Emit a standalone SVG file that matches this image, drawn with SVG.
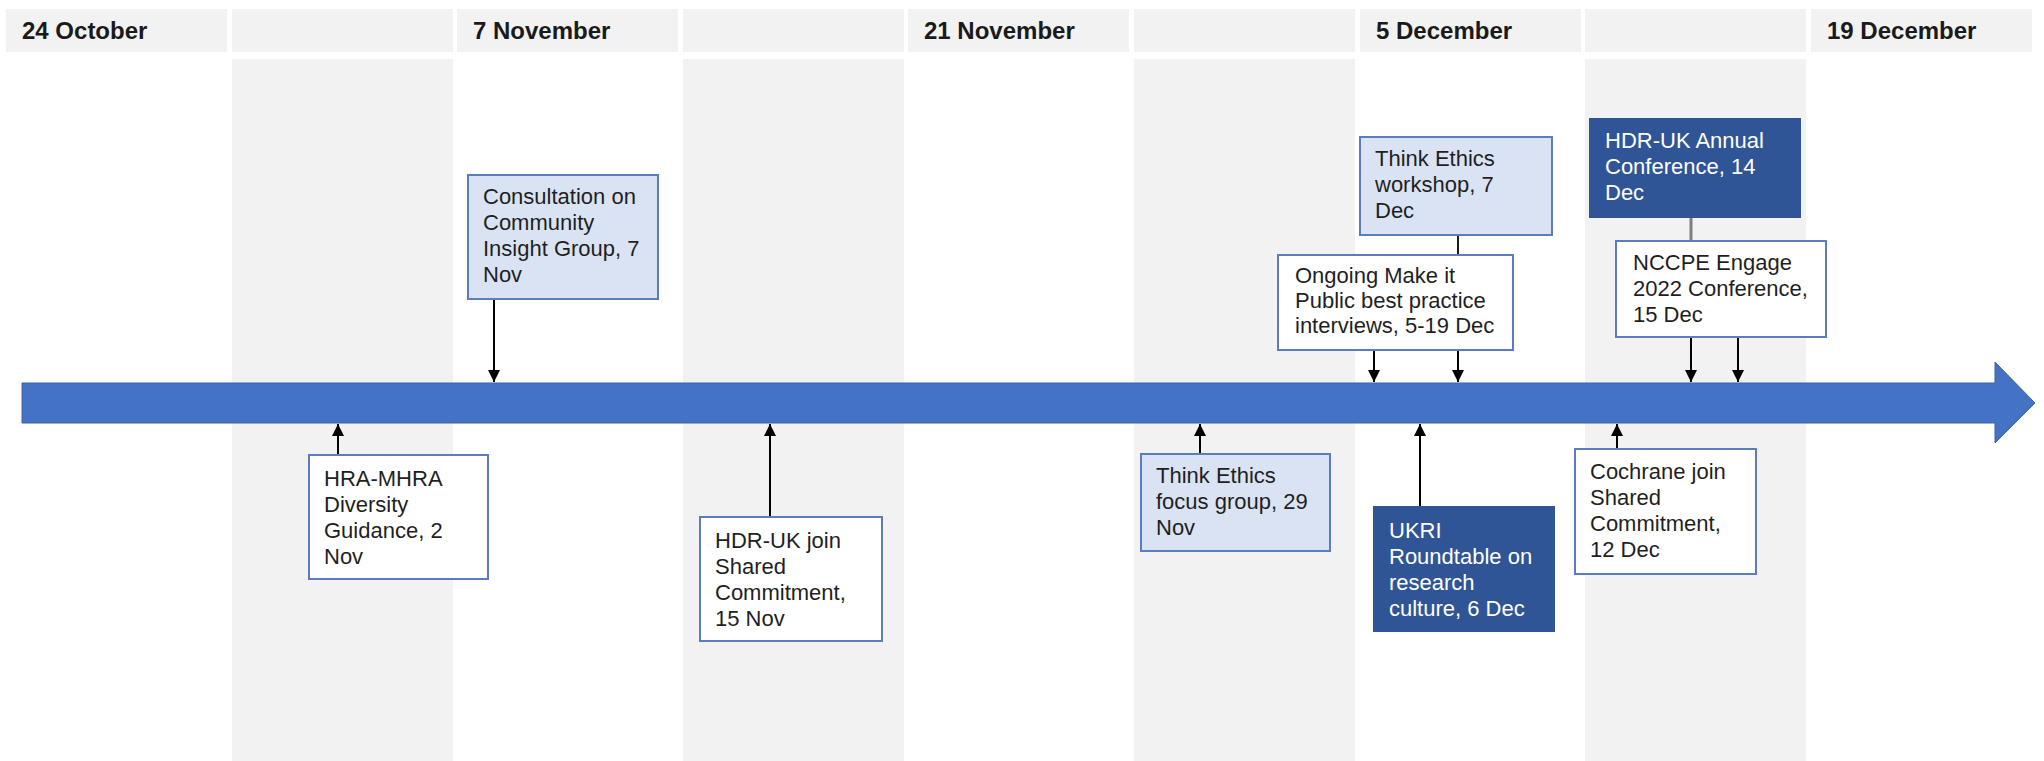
<svg xmlns="http://www.w3.org/2000/svg" width="2044" height="761" viewBox="0 0 2044 761">
  <defs>
    <style>
      .cell { fill: #f2f2f2; }
      .hdr { font-family: "Liberation Sans", Arial, sans-serif; font-size: 24px; font-weight: bold; fill: #1a1a1a; }
      .lbl { font-family: "Liberation Sans", Arial, sans-serif; font-size: 22px; fill: #1f1f1f; }
      .lbl-w { font-family: "Liberation Sans", Arial, sans-serif; font-size: 22px; fill: #ffffff; }
      .box-light { fill: #dae3f3; stroke: #5b7cc2; stroke-width: 2; }
      .box-white { fill: #ffffff; stroke: #5b7cc2; stroke-width: 2; }
      .box-dark { fill: #2f5597; stroke: #2f5597; stroke-width: 2; }
      .arrow { stroke: #000000; stroke-width: 2; fill: none; marker-end: url(#tip); }
      .link { stroke: #1a1a1a; stroke-width: 2; fill: none; }
      .link-grey { stroke: #7f7f7f; stroke-width: 3; fill: none; }
    </style>
    <marker id="tip" viewBox="0 0 12 12" refX="12" refY="6" markerWidth="13" markerHeight="12" markerUnits="userSpaceOnUse" orient="auto">
      <path d="M0,0 L12,6 L0,12 z" fill="#000000"/>
    </marker>
  </defs>

  <rect width="2044" height="761" fill="#ffffff"/>

  <!-- fortnight header cells -->
  <g id="header">
    <rect class="cell" x="6" y="9" width="221" height="43"/>
    <rect class="cell" x="232" y="9" width="221" height="43"/>
    <rect class="cell" x="457" y="9" width="221" height="43"/>
    <rect class="cell" x="683" y="9" width="221" height="43"/>
    <rect class="cell" x="908" y="9" width="221" height="43"/>
    <rect class="cell" x="1134" y="9" width="221" height="43"/>
    <rect class="cell" x="1360" y="9" width="221" height="43"/>
    <rect class="cell" x="1585" y="9" width="221" height="43"/>
    <rect class="cell" x="1811" y="9" width="221" height="43"/>
    <text class="hdr" x="22" y="39">24 October</text>
    <text class="hdr" x="473" y="39">7 November</text>
    <text class="hdr" x="924" y="39">21 November</text>
    <text class="hdr" x="1376" y="39">5 December</text>
    <text class="hdr" x="1827" y="39">19 December</text>
  </g>

  <!-- alternating week columns -->
  <g id="columns">
    <rect class="cell" x="232" y="59" width="221" height="702"/>
    <rect class="cell" x="683" y="59" width="221" height="702"/>
    <rect class="cell" x="1134" y="59" width="221" height="702"/>
    <rect class="cell" x="1585" y="59" width="221" height="702"/>
  </g>

  <!-- main timeline arrow -->
  <g id="timeline">
    <path d="M22,383 L1995,383 L1995,362 L2035,403 L1995,443 L1995,423 L22,423 Z" fill="#4472c4" stroke="#3a63ad" stroke-width="1"/>
  </g>

  <!-- connectors -->
  <g id="connectors">
    <line class="arrow" x1="494" y1="299" x2="494" y2="382"/>
    <line class="arrow" x1="338" y1="455" x2="338" y2="424"/>
    <line class="arrow" x1="770" y1="517" x2="770" y2="424"/>
    <line class="arrow" x1="1200" y1="454" x2="1200" y2="424"/>
    <line class="arrow" x1="1420" y1="507" x2="1420" y2="424"/>
    <line class="link" x1="1458" y1="235" x2="1458" y2="255"/>
    <line class="arrow" x1="1374" y1="350" x2="1374" y2="382"/>
    <line class="arrow" x1="1458" y1="350" x2="1458" y2="382"/>
    <line class="link-grey" x1="1691" y1="217" x2="1691" y2="241"/>
    <line class="arrow" x1="1691" y1="337" x2="1691" y2="382"/>
    <line class="arrow" x1="1738" y1="337" x2="1738" y2="382"/>
    <line class="arrow" x1="1617" y1="449" x2="1617" y2="424"/>
  </g>

  <g id="consultation">
    <rect class="box-light" x="468" y="175" width="190" height="124"/>
    <text class="lbl" x="483"><tspan x="483" y="204">Consultation on</tspan><tspan x="483" y="230">Community</tspan><tspan x="483" y="256">Insight Group, 7</tspan><tspan x="483" y="282">Nov</tspan></text>
  </g>

  <g id="hra-mhra">
    <rect class="box-white" x="309" y="455" width="179" height="124"/>
    <text class="lbl"><tspan x="324" y="486">HRA-MHRA</tspan><tspan x="324" y="512">Diversity</tspan><tspan x="324" y="538">Guidance, 2</tspan><tspan x="324" y="564">Nov</tspan></text>
  </g>

  <g id="hdruk-join">
    <rect class="box-white" x="700" y="517" width="182" height="124"/>
    <text class="lbl"><tspan x="715" y="548">HDR-UK join</tspan><tspan x="715" y="574">Shared</tspan><tspan x="715" y="600">Commitment,</tspan><tspan x="715" y="626">15 Nov</tspan></text>
  </g>

  <g id="focus-group">
    <rect class="box-light" x="1141" y="454" width="189" height="97"/>
    <text class="lbl"><tspan x="1156" y="483">Think Ethics</tspan><tspan x="1156" y="509">focus group, 29</tspan><tspan x="1156" y="535">Nov</tspan></text>
  </g>

  <g id="ukri">
    <rect class="box-dark" x="1374" y="507" width="180" height="124"/>
    <text class="lbl-w"><tspan x="1389" y="538">UKRI</tspan><tspan x="1389" y="564">Roundtable on</tspan><tspan x="1389" y="590">research</tspan><tspan x="1389" y="616">culture, 6 Dec</tspan></text>
  </g>

  <g id="workshop">
    <rect class="box-light" x="1360" y="137" width="192" height="98"/>
    <text class="lbl"><tspan x="1375" y="166">Think Ethics</tspan><tspan x="1375" y="192">workshop, 7</tspan><tspan x="1375" y="218">Dec</tspan></text>
  </g>

  <g id="make-it-public">
    <rect class="box-white" x="1278" y="255" width="235" height="95"/>
    <text class="lbl"><tspan x="1295" y="283">Ongoing Make it</tspan><tspan x="1295" y="308">Public best practice</tspan><tspan x="1295" y="333">interviews, 5-19 Dec</tspan></text>
  </g>

  <g id="hdruk-conference">
    <rect class="box-dark" x="1590" y="119" width="210" height="98"/>
    <text class="lbl-w"><tspan x="1605" y="148">HDR-UK Annual</tspan><tspan x="1605" y="174">Conference, 14</tspan><tspan x="1605" y="200">Dec</tspan></text>
  </g>

  <g id="nccpe">
    <rect class="box-white" x="1616" y="241" width="210" height="96"/>
    <text class="lbl"><tspan x="1633" y="270">NCCPE Engage</tspan><tspan x="1633" y="296">2022 Conference,</tspan><tspan x="1633" y="322">15 Dec</tspan></text>
  </g>

  <g id="cochrane">
    <rect class="box-white" x="1575" y="449" width="181" height="125"/>
    <text class="lbl"><tspan x="1590" y="479">Cochrane join</tspan><tspan x="1590" y="505">Shared</tspan><tspan x="1590" y="531">Commitment,</tspan><tspan x="1590" y="557">12 Dec</tspan></text>
  </g>
</svg>
